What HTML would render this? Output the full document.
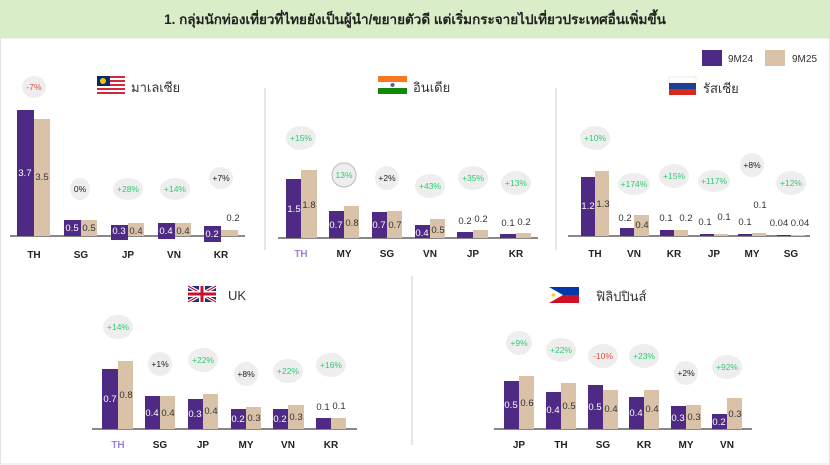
<!DOCTYPE html>
<html><head><meta charset="utf-8"><style>
body{margin:0;background:#fff}
svg{display:block;font-family:"Liberation Sans","Noto Sans CJK SC",sans-serif}
.p{fill:#4e2a84}.b{fill:#d9c2a8}
.ax{font-size:10px;font-weight:bold;fill:#222;text-anchor:middle}
.v{font-size:9.5px;text-anchor:middle}
.w{fill:#fff}.d{fill:#333}
.bb{fill:#eeeeee}
.g{font-size:8.5px;fill:#2ecc71;text-anchor:middle}
.r{font-size:8.5px;fill:#e74c3c;text-anchor:middle}
.k{font-size:8.5px;fill:#222;text-anchor:middle}
.ct{font-size:13px;fill:#333}
</style></head><body>
<svg width="830" height="465" viewBox="0 0 830 465">
<rect x="0" y="0" width="830" height="465" fill="#fff"/>
<rect x="0" y="0" width="830" height="38" fill="#d8edc8"/>
<text x="415" y="24" text-anchor="middle" font-size="13.5" font-weight="bold" fill="#222">1. กลุ่มนักท่องเที่ยวที่ไทยยังเป็นผู้นำ/ขยายตัวดี  แต่เริ่มกระจายไปเที่ยวประเทศอื่นเพิ่มขึ้น</text>
<rect x="0.5" y="38" width="829" height="426" fill="none" stroke="#e3e3e3"/>
<!-- legend -->
<rect x="702" y="50" width="20" height="16" class="p"/><text x="728" y="62" font-size="10" fill="#333">9M24</text>
<rect x="765" y="50" width="20" height="16" class="b"/><text x="792" y="62" font-size="10" fill="#333">9M25</text>
<!-- dividers -->
<line x1="265" y1="88" x2="265" y2="250" stroke="#ccc"/>
<line x1="556" y1="88" x2="556" y2="250" stroke="#ccc"/>
<line x1="412" y1="276" x2="412" y2="445" stroke="#ccc"/>

<!-- Malaysia -->
<g>
<rect x="97" y="76" width="28" height="18" fill="#fff"/>
<g fill="#d4263c"><rect x="97" y="76" width="28" height="2"/><rect x="97" y="80" width="28" height="2"/><rect x="97" y="84" width="28" height="2"/><rect x="97" y="88" width="28" height="2"/><rect x="97" y="92" width="28" height="2"/></g>
<rect x="97" y="76" width="13" height="10" fill="#0b2a6b"/><circle cx="103" cy="81" r="3" fill="#f6c500"/>
<text x="131" y="92" class="ct">มาเลเซีย</text>
<line x1="10" y1="236" x2="245" y2="236" stroke="#111"/>
<rect x="17" y="110" width="17" height="126" class="p"/><rect x="34" y="119" width="16" height="117" class="b"/>
<rect x="64" y="220" width="17" height="16" class="p"/><rect x="81" y="220" width="16" height="16" class="b"/>
<rect x="111" y="225" width="17" height="15" class="p"/><rect x="128" y="223" width="16" height="13" class="b"/>
<rect x="158" y="223" width="17" height="16" class="p"/><rect x="175" y="223" width="16" height="13" class="b"/>
<rect x="204" y="226" width="17" height="16" class="p"/><rect x="221" y="230" width="17" height="6" class="b"/>
<text x="25" y="176" class="v w">3.7</text><text x="42" y="180" class="v d">3.5</text>
<text x="72" y="231" class="v w">0.5</text><text x="89" y="231" class="v d">0.5</text>
<text x="119" y="234" class="v w">0.3</text><text x="136" y="234" class="v d">0.4</text>
<text x="166" y="234" class="v w">0.4</text><text x="183" y="234" class="v d">0.4</text>
<text x="212" y="237" class="v w">0.2</text><text x="233" y="221" class="v d">0.2</text>
<text x="34" y="258" class="ax">TH</text><text x="81" y="258" class="ax">SG</text><text x="128" y="258" class="ax">JP</text><text x="174" y="258" class="ax">VN</text><text x="221" y="258" class="ax">KR</text>
<ellipse cx="34" cy="87" rx="12" ry="11" class="bb"/><text x="34" y="90" class="r">-7%</text>
<ellipse cx="80" cy="189" rx="10" ry="11" class="bb"/><text x="80" y="192" class="k">0%</text>
<ellipse cx="128" cy="189" rx="15" ry="11" class="bb"/><text x="128" y="192" class="g">+28%</text>
<ellipse cx="175" cy="189" rx="15" ry="11" class="bb"/><text x="175" y="192" class="g">+14%</text>
<ellipse cx="221" cy="178" rx="12" ry="11" class="bb"/><text x="221" y="181" class="k">+7%</text>
</g>

<!-- India -->
<g>
<rect x="378" y="76" width="29" height="6" fill="#f47920"/><rect x="378" y="82" width="29" height="6" fill="#fff"/><rect x="378" y="88" width="29" height="6" fill="#128807"/><circle cx="392.5" cy="85" r="2" fill="#5a5aa8"/>
<text x="413" y="92" class="ct">อินเดีย</text>
<line x1="278" y1="238" x2="538" y2="238" stroke="#111"/>
<rect x="286" y="179" width="15" height="59" class="p"/><rect x="301" y="170" width="16" height="68" class="b"/>
<rect x="329" y="211" width="15" height="27" class="p"/><rect x="344" y="206" width="15" height="32" class="b"/>
<rect x="372" y="212" width="15" height="26" class="p"/><rect x="387" y="211" width="15" height="27" class="b"/>
<rect x="415" y="225" width="15" height="13" class="p"/><rect x="430" y="219" width="15" height="19" class="b"/>
<rect x="457" y="232" width="16" height="6" class="p"/><rect x="473" y="230" width="15" height="8" class="b"/>
<rect x="500" y="234" width="16" height="4" class="p"/><rect x="516" y="233" width="15" height="5" class="b"/>
<text x="294" y="212" class="v w">1.5</text><text x="309" y="208" class="v d">1.8</text>
<text x="336" y="228" class="v w">0.7</text><text x="352" y="226" class="v d">0.8</text>
<text x="379" y="228" class="v w">0.7</text><text x="395" y="228" class="v d">0.7</text>
<text x="422" y="236" class="v w">0.4</text><text x="438" y="233" class="v d">0.5</text>
<text x="465" y="224" class="v d">0.2</text><text x="481" y="222" class="v d">0.2</text>
<text x="508" y="226" class="v d">0.1</text><text x="524" y="225" class="v d">0.2</text>
<text x="301" y="257" class="ax" style="fill:#a47fdc">TH</text><text x="344" y="257" class="ax">MY</text><text x="387" y="257" class="ax">SG</text><text x="430" y="257" class="ax">VN</text><text x="473" y="257" class="ax">JP</text><text x="516" y="257" class="ax">KR</text>
<ellipse cx="301" cy="138" rx="15" ry="12" class="bb"/><text x="301" y="141" class="g">+15%</text>
<ellipse cx="344" cy="175" rx="12" ry="12" class="bb" stroke="#bbb"/><text x="344" y="178" class="g">13%</text>
<ellipse cx="387" cy="178" rx="12" ry="12" class="bb"/><text x="387" y="181" class="k">+2%</text>
<ellipse cx="430" cy="186" rx="15" ry="12" class="bb"/><text x="430" y="189" class="g">+43%</text>
<ellipse cx="473" cy="178" rx="15" ry="12" class="bb"/><text x="473" y="181" class="g">+35%</text>
<ellipse cx="516" cy="183" rx="15" ry="12" class="bb"/><text x="516" y="186" class="g">+13%</text>
</g>

<!-- Russia -->
<g>
<rect x="669" y="77" width="27" height="6" fill="#fff" stroke="#ddd" stroke-width="0.5"/><rect x="669" y="83" width="27" height="6" fill="#1c3f94"/><rect x="669" y="89" width="27" height="6" fill="#d52b1e"/>
<text x="703" y="93" class="ct">รัสเซีย</text>
<line x1="568" y1="236" x2="810" y2="236" stroke="#111"/>
<rect x="581" y="177" width="14" height="59" class="p"/><rect x="595" y="171" width="14" height="65" class="b"/>
<rect x="620" y="228" width="14" height="8" class="p"/><rect x="634" y="215" width="15" height="21" class="b"/>
<rect x="660" y="230" width="14" height="6" class="p"/><rect x="674" y="230" width="14" height="6" class="b"/>
<rect x="700" y="234" width="14" height="2" class="p"/><rect x="714" y="234" width="14" height="2" class="b"/>
<rect x="738" y="234" width="14" height="2" class="p"/><rect x="752" y="233" width="14" height="3" class="b"/>
<rect x="777" y="235" width="14" height="1" class="p"/><rect x="791" y="235" width="14" height="1" class="b"/>
<text x="588" y="209" class="v w">1.2</text><text x="603" y="207" class="v d">1.3</text>
<text x="625" y="221" class="v d">0.2</text><text x="642" y="228" class="v d">0.4</text>
<text x="666" y="221" class="v d">0.1</text><text x="686" y="221" class="v d">0.2</text>
<text x="705" y="225" class="v d">0.1</text><text x="724" y="220" class="v d">0.1</text>
<text x="745" y="225" class="v d">0.1</text><text x="760" y="208" class="v d">0.1</text>
<text x="779" y="226" class="v d">0.04</text><text x="800" y="226" class="v d">0.04</text>
<text x="595" y="257" class="ax">TH</text><text x="634" y="257" class="ax">VN</text><text x="674" y="257" class="ax">KR</text><text x="714" y="257" class="ax">JP</text><text x="752" y="257" class="ax">MY</text><text x="791" y="257" class="ax">SG</text>
<ellipse cx="595" cy="138" rx="15" ry="12" class="bb"/><text x="595" y="141" class="g">+10%</text>
<ellipse cx="634" cy="184" rx="16" ry="11" class="bb"/><text x="634" y="187" class="g" font-size="7.5">+174%</text>
<ellipse cx="674" cy="176" rx="15" ry="12" class="bb"/><text x="674" y="179" class="g">+15%</text>
<ellipse cx="714" cy="181" rx="16" ry="11" class="bb"/><text x="714" y="184" class="g" font-size="7.5">+117%</text>
<ellipse cx="752" cy="165" rx="12" ry="12" class="bb"/><text x="752" y="168" class="k">+8%</text>
<ellipse cx="791" cy="183" rx="15" ry="12" class="bb"/><text x="791" y="186" class="g">+12%</text>
</g>

<!-- UK -->
<g>
<rect x="188" y="286" width="28" height="16" fill="#1f2f7a"/>
<path d="M188 286 L216 302 M216 286 L188 302" stroke="#fff" stroke-width="3.5"/>
<path d="M188 286 L216 302 M216 286 L188 302" stroke="#c8102e" stroke-width="1.2"/>
<rect x="199" y="286" width="6" height="16" fill="#fff"/><rect x="188" y="291" width="28" height="6" fill="#fff"/>
<rect x="200.5" y="286" width="3" height="16" fill="#c8102e"/><rect x="188" y="292.5" width="28" height="3" fill="#c8102e"/>
<text x="228" y="300" class="ct">UK</text>
<line x1="92" y1="429" x2="357" y2="429" stroke="#111"/>
<rect x="102" y="369" width="16" height="60" class="p"/><rect x="118" y="361" width="15" height="68" class="b"/>
<rect x="145" y="396" width="15" height="33" class="p"/><rect x="160" y="396" width="15" height="33" class="b"/>
<rect x="188" y="399" width="15" height="30" class="p"/><rect x="203" y="394" width="15" height="35" class="b"/>
<rect x="231" y="409" width="15" height="20" class="p"/><rect x="246" y="407" width="15" height="22" class="b"/>
<rect x="273" y="409" width="15" height="20" class="p"/><rect x="288" y="405" width="16" height="24" class="b"/>
<rect x="316" y="418" width="15" height="11" class="p"/><rect x="331" y="418" width="15" height="11" class="b"/>
<text x="110" y="402" class="v w">0.7</text><text x="126" y="398" class="v d">0.8</text>
<text x="152" y="416" class="v w">0.4</text><text x="168" y="416" class="v d">0.4</text>
<text x="195" y="417" class="v w">0.3</text><text x="211" y="414" class="v d">0.4</text>
<text x="238" y="422" class="v w">0.2</text><text x="254" y="421" class="v d">0.3</text>
<text x="280" y="422" class="v w">0.2</text><text x="296" y="420" class="v d">0.3</text>
<text x="323" y="410" class="v d">0.1</text><text x="339" y="409" class="v d">0.1</text>
<text x="118" y="448" class="ax" style="fill:#a47fdc">TH</text><text x="160" y="448" class="ax">SG</text><text x="203" y="448" class="ax">JP</text><text x="246" y="448" class="ax">MY</text><text x="288" y="448" class="ax">VN</text><text x="331" y="448" class="ax">KR</text>
<ellipse cx="118" cy="327" rx="15" ry="12" class="bb"/><text x="118" y="330" class="g">+14%</text>
<ellipse cx="160" cy="364" rx="12" ry="12" class="bb"/><text x="160" y="367" class="k">+1%</text>
<ellipse cx="203" cy="360" rx="15" ry="12" class="bb"/><text x="203" y="363" class="g">+22%</text>
<ellipse cx="246" cy="374" rx="12" ry="12" class="bb"/><text x="246" y="377" class="k">+8%</text>
<ellipse cx="288" cy="371" rx="15" ry="12" class="bb"/><text x="288" y="374" class="g">+22%</text>
<ellipse cx="331" cy="365" rx="15" ry="12" class="bb"/><text x="331" y="368" class="g">+16%</text>
</g>

<!-- Philippines -->
<g>
<rect x="549" y="287" width="30" height="8" fill="#0038a8"/><rect x="549" y="295" width="30" height="8" fill="#ce1126"/>
<path d="M549 287 L563 295 L549 303 Z" fill="#fff"/><circle cx="553.5" cy="295" r="1.8" fill="#fcd116"/>
<text x="596" y="301" class="ct">ฟิลิปปินส์</text>
<line x1="494" y1="429" x2="752" y2="429" stroke="#111"/>
<rect x="504" y="381" width="15" height="48" class="p"/><rect x="519" y="376" width="15" height="53" class="b"/>
<rect x="546" y="392" width="15" height="37" class="p"/><rect x="561" y="383" width="15" height="46" class="b"/>
<rect x="588" y="385" width="15" height="44" class="p"/><rect x="603" y="390" width="15" height="39" class="b"/>
<rect x="629" y="397" width="15" height="32" class="p"/><rect x="644" y="390" width="15" height="39" class="b"/>
<rect x="671" y="406" width="15" height="23" class="p"/><rect x="686" y="405" width="15" height="24" class="b"/>
<rect x="712" y="414" width="15" height="15" class="p"/><rect x="727" y="398" width="15" height="31" class="b"/>
<text x="511" y="408" class="v w">0.5</text><text x="527" y="406" class="v d">0.6</text>
<text x="553" y="413" class="v w">0.4</text><text x="569" y="409" class="v d">0.5</text>
<text x="595" y="410" class="v w">0.5</text><text x="611" y="412" class="v d">0.4</text>
<text x="636" y="416" class="v w">0.4</text><text x="652" y="412" class="v d">0.4</text>
<text x="678" y="421" class="v w">0.3</text><text x="694" y="420" class="v d">0.3</text>
<text x="719" y="425" class="v w">0.2</text><text x="735" y="417" class="v d">0.3</text>
<text x="519" y="448" class="ax">JP</text><text x="561" y="448" class="ax">TH</text><text x="603" y="448" class="ax">SG</text><text x="644" y="448" class="ax">KR</text><text x="686" y="448" class="ax">MY</text><text x="727" y="448" class="ax">VN</text>
<ellipse cx="519" cy="343" rx="13" ry="12" class="bb"/><text x="519" y="346" class="g">+9%</text>
<ellipse cx="561" cy="350" rx="15" ry="12" class="bb"/><text x="561" y="353" class="g">+22%</text>
<ellipse cx="603" cy="356" rx="15" ry="12" class="bb"/><text x="603" y="359" class="r">-10%</text>
<ellipse cx="644" cy="356" rx="15" ry="12" class="bb"/><text x="644" y="359" class="g">+23%</text>
<ellipse cx="686" cy="373" rx="12" ry="12" class="bb"/><text x="686" y="376" class="k">+2%</text>
<ellipse cx="727" cy="367" rx="15" ry="12" class="bb"/><text x="727" y="370" class="g">+92%</text>
</g>
</svg>
</body></html>
